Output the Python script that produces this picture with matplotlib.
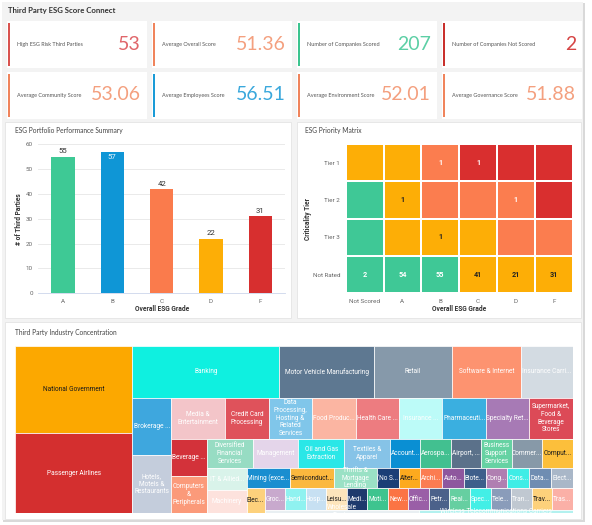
import matplotlib
matplotlib.use("Agg")
import matplotlib.pyplot as plt
from matplotlib.patches import Rectangle
from matplotlib.colors import ListedColormap
import numpy as np

plt.rcParams['font.family'] = ['Lato', 'DejaVu Sans']

# ---------------- data ----------------
dashboard_title = "Third Party ESG Score Connect"
kpi_labels = ["High ESG Risk Third Parties", "Average Overall Score",
              "Number of Companies Scored", "Number of Companies Not Scored",
              "Average Community Score", "Average Employees Score",
              "Average Environment Score", "Average Governance Score"]
kpi_values = ["53", "51.36", "207", "2", "53.06", "56.51", "52.01", "51.88"]
kpi_bar_colors = ["#d9534f", "#f0845c", "#3cc48f", "#c9302c",
                  "#f0845c", "#1a9bd7", "#f0845c", "#f0845c"]
kpi_value_colors = ["#e0666a", "#f4a07f", "#5ccfa5", "#d64545",
                    "#f4a07f", "#3aa8dc", "#f4a07f", "#f4a07f"]

bar_title = "ESG Portfolio Performance Summary"
grades = ["A", "B", "C", "D", "F"]
grade_counts = [55, 57, 42, 22, 31]
grade_colors = ["#3ec995", "#0f96d6", "#fa7b4c", "#fdae06", "#d72f2f"]

matrix_title = "ESG Priority Matrix"
matrix_cols = ["Not Scored", "A", "B", "C", "D", "F"]
matrix_rows = ["Tier 1", "Tier 2", "Tier 3", "Not Rated"]
matrix_risk = [[1, 1, 2, 3, 3, 3],
               [0, 1, 2, 2, 2, 3],
               [0, 1, 1, 1, 2, 2],
               [0, 0, 0, 1, 1, 1]]
matrix_counts = [[None, None, 1, 1, None, None],
                 [None, 1, None, None, 1, None],
                 [None, None, 1, None, None, None],
                 [2, 54, 55, 41, 21, 31]]
risk_colors = ["#3fc896", "#fdae06", "#fb7d4f", "#d92f2f"]

tree_title = "Third Party Industry Concentration"
industries = ["National Government", "Passenger Airlines", "Banking",
              "Motor Vehicle Manufacturing", "Retail", "Software & Internet",
              "Insurance Carriers", "Brokerage & Investment", "Hotels, Motels & Restaurants",
              "Media & Entertainment", "Credit Card Processing",
              "Data Processing, Hosting & Related Services", "Food Products",
              "Health Care Providers", "Insurance Agencies", "Pharmaceuticals",
              "Specialty Retail", "Supermarket, Food & Beverage Stores",
              "Beverage Manufacturing", "Computers & Peripherals",
              "Diversified Financial Services", "Management", "Oil and Gas Extraction",
              "Textiles & Apparel", "Accounting", "Aerospace & Defense",
              "Airport, Airline Services", "Business Support Services",
              "Commercial Services", "Computer Services", "IT & Allied Services",
              "Machinery", "Mining (except Oil and Gas)", "Semiconductors",
              "Thrifts & Mortgage Lending", "(No Sector)", "Alternative Energy",
              "Architecture", "Auto Parts", "Biotechnology", "Conglomerates",
              "Construction", "Data Services", "Electric Utilities", "Electronics",
              "Grocery Stores", "Hand Tools", "Hospitals", "Leisure", "Medical Devices",
              "Motion Pictures", "Newspapers", "Office Supplies", "Petroleum Refining",
              "Real Estate", "Specialty Chemicals", "Telecommunications", "Transportation",
              "Travel", "Trash Collection", "Wholesale Trade",
              "Wireless Telecommunications Carriers"]
industry_counts = [23, 21, 17, 11, 9, 8, 6, 5, 5, 5, 4, 4, 4, 4, 4, 4, 4, 4,
                   3, 3, 3, 3, 3, 3, 2, 2, 2, 2, 2, 2, 2, 2, 2, 2, 2,
                   1, 1, 1, 1, 1, 1, 1, 1, 1, 1, 1, 1, 1, 1, 1, 1, 1, 1, 1,
                   1, 1, 1, 1, 1, 1, 1, 1]
industry_labels = ["National Government", "Passenger Airlines", "Banking",
                   "Motor Vehicle Manufacturing", "Retail", "Software & Internet",
                   "Insurance Carri...", "Brokerage ...", "Hotels,\nMotels &\nRestaurants",
                   "Media &\nEntertainment", "Credit Card\nProcessing",
                   "Data\nProcessing,\nHosting &\nRelated\nServices", "Food Produc...",
                   "Health Care ...", "Insurance ...", "Pharmaceuti...", "Specialty Ret...",
                   "Supermarket,\nFood &\nBeverage\nStores", "Beverage ...",
                   "Computers\n&\nPeripherals", "Diversified\nFinancial\nServices",
                   "Management", "Oil and Gas\nExtraction", "Textiles &\nApparel",
                   "Account...", "Aerospa...", "Airport, ...", "Business\nSupport\nServices",
                   "Commer...", "Comput...", "IT & Allied...", "Machinery", "Mining (exce...",
                   "Semiconduct...", "Thrifts &\nMortgage\nLending", "(No S...", "Alter...",
                   "Archi...", "Auto...", "Biote...", "Cong...", "Cons...", "Data...",
                   "Elect...", "Elec...", "Groc...", "Hand...", "Hosp...", "Leisu...",
                   "Medi...", "Moti...", "New...", "Offic...", "Petr...", "Real...",
                   "Spec...", "Tele...", "Tran...", "Trav...", "Tras...",
                   "Wholesale\nTrade", "Wireless Telecommunications Carriers"]
industry_colors = ["#fca800", "#d42f2f", "#0ff0e0", "#5e7891", "#8699aa", "#fd9370",
                   "#d3dbe2", "#3ea7de", "#c4cddc", "#f3c5c9", "#df525b", "#80c6ea",
                   "#fbb5a2", "#ed7c80", "#bcfbf8", "#3aafe0", "#a77ab5", "#dc4a57",
                   "#d3323a", "#fb9a7a", "#97dcc3", "#e4d5ea", "#2ae7e7", "#86c3e7",
                   "#0a8fd3", "#42c090", "#5b718a", "#66d2a3", "#8799a8", "#fcbf3b",
                   "#d9f3ea", "#fde2dd", "#1a8ed0", "#fbb83e", "#9ae1c5",
                   "#1b3e76", "#fdaa1e", "#fb7c52", "#8e579e", "#3e5f8b", "#b07fb1",
                   "#3eede6", "#6f8db2", "#a9b7c8", "#fdd17c", "#c8a9cd", "#8ff2f0",
                   "#c7e0f2", "#fde5bc", "#1e3a6d", "#3ec48f", "#fb7444", "#9a5fa7",
                   "#4b618a", "#66cfa1", "#42efe6", "#8a9cba", "#c0c8d1", "#fdd17b",
                   "#fbb0a7", "#e9eff2", "#b3f1ef"]
dark_label_industries = {"National Government", "Computer Services", "Semiconductors",
                         "Alternative Energy", "Electronics", "Leisure", "Travel"}

# ---------------- helpers ----------------
FW, FH = 592, 525
fig = plt.figure(figsize=(FW / 100, FH / 100), dpi=100)
fig.patch.set_facecolor("white")


def axes_px(x0, y0, x1, y1):
    return fig.add_axes([x0 / FW, 1 - y1 / FH, (x1 - x0) / FW, (y1 - y0) / FH])


bg = fig.add_axes([0, 0, 1, 1])
bg.set_xlim(0, FW)
bg.set_ylim(FH, 0)
bg.axis("off")

# dashboard background + shadow
bg.add_patch(Rectangle((3, 3), 582, 519, facecolor="#d9d9d9", edgecolor="none"))
bg.add_patch(Rectangle((2, 2), 581, 518, facecolor="#f3f3f3", edgecolor="none"))
# panels
for (x0, y0, x1, y1) in [(5, 122, 291, 318), (297, 122, 581, 318), (5, 322, 581, 519)]:
    bg.add_patch(Rectangle((x0, y0), x1 - x0, y1 - y0, facecolor="white",
                           edgecolor="#e4e4e4", lw=0.6))

bg.text(8, 10, dashboard_title, fontsize=5.6, fontweight="bold", color="#333333",
        va="center", ha="left")

# KPI cards
for i, (lab, val) in enumerate(zip(kpi_labels, kpi_values)):
    r, c = divmod(i, 4)
    cx = 7 + c * 145
    cy = 21 + r * 51
    bg.add_patch(Rectangle((cx, cy), 140, 47, facecolor="white", edgecolor="none"))
    bg.add_patch(Rectangle((cx + 1, cy + 2), 1.6, 43, facecolor=kpi_bar_colors[i],
                           edgecolor="none"))
    bg.text(cx + 10, cy + 23.5, lab, fontsize=4.0, color="#555555", va="center", ha="left")
    bg.text(cx + 134, cy + 23, val, fontsize=14, fontweight="normal",
            color=kpi_value_colors[i], va="center", ha="right")

# panel titles
bg.text(15, 131, bar_title, fontsize=4.8, color="#444444", va="center")
bg.text(305, 131, matrix_title, fontsize=4.8, color="#444444", va="center")
bg.text(15, 333, tree_title, fontsize=4.8, color="#444444", va="center")

chart_font = ['Roboto', 'DejaVu Sans']

# ---------------- bar chart ----------------
ax = axes_px(38.3, 144.3, 285, 293.3)
xs = np.arange(len(grades))
bars = ax.bar(xs, grade_counts, width=0.47, color=grade_colors, zorder=3)
ax.set_xlim(-0.5, len(grades) - 0.5)
ax.set_ylim(0, 60)
ax.set_yticks(range(0, 61, 10))
ax.set_xticks(xs, grades)
ax.grid(axis="y", color="#e6e6e6", lw=0.6)
ax.set_axisbelow(True)
for s in ["top", "right", "left"]:
    ax.spines[s].set_visible(False)
ax.spines["bottom"].set_color("#ccd6eb")
ax.spines["bottom"].set_linewidth(0.6)
ax.tick_params(axis="y", length=0, labelsize=4.5, colors="#666666", pad=4)
ax.tick_params(axis="x", length=0, labelsize=4.5, colors="#666666", pad=4)
for t in ax.get_xticklabels() + ax.get_yticklabels():
    t.set_family(chart_font)
ax.set_facecolor("none")
ax.set_xlabel("Overall ESG Grade", fontsize=4.8, fontweight="bold", color="#333333",
              family=chart_font)
ax.xaxis.set_label_coords(0.5, -0.08)
ax.set_ylabel("# of Third Parties", fontsize=4.8, fontweight="bold", color="#333333",
              family=chart_font)
ax.yaxis.set_label_coords(-0.062, 0.5)
for rect, v in zip(bars, grade_counts):
    cxm = rect.get_x() + rect.get_width() / 2
    if v >= 56:
        ax.text(cxm, v - 0.8, str(v), ha="center", va="top", fontsize=5.6,
                color="#e8f4fb", family=chart_font, zorder=4)
    else:
        ax.text(cxm, v + 0.9, str(v), ha="center", va="bottom", fontsize=5.6,
                color="#333333", family=chart_font, zorder=4)

# ---------------- heatmap ----------------
hx = axes_px(345.7, 144, 572.7, 293.3)
risk = np.array(matrix_risk)
cmap = ListedColormap(risk_colors)
hx.pcolormesh(np.arange(len(matrix_cols) + 1), np.arange(len(matrix_rows) + 1), risk,
              cmap=cmap, vmin=-0.5, vmax=3.5, edgecolors="white", linewidth=1.3)
hx.set_xlim(0, len(matrix_cols))
hx.set_ylim(len(matrix_rows), 0)
hx.set_xticks(np.arange(len(matrix_cols)) + 0.5, matrix_cols)
hx.set_yticks(np.arange(len(matrix_rows)) + 0.5, matrix_rows)
for s in hx.spines.values():
    s.set_visible(False)
hx.tick_params(length=0, labelsize=4.5, colors="#666666", pad=4)
for t in hx.get_xticklabels() + hx.get_yticklabels():
    t.set_family(chart_font)
hx.set_xlabel("Overall ESG Grade", fontsize=4.8, fontweight="bold", color="#333333",
              family=chart_font)
hx.xaxis.set_label_coords(0.5, -0.08)
hx.set_ylabel("Criticality Tier", fontsize=4.8, fontweight="bold", color="#333333",
              family=chart_font)
hx.yaxis.set_label_coords(-0.15, 0.5)
for r, row in enumerate(matrix_counts):
    for c, v in enumerate(row):
        if v is None:
            continue
        col = "#222222" if matrix_risk[r][c] == 1 else "white"
        hx.text(c + 0.5, r + 0.5, str(v), ha="center", va="center", fontsize=5.2,
                fontweight="bold", color=col, family=chart_font)


# ---------------- treemap (Highcharts-style squarified) ----------------
def squarified(values, W, H):
    nan = float("nan")
    total = float(sum(values))
    out = []
    plot = {"x": 0.0, "y": 0.0}
    g = {"height": H, "width": W, "direction": 0, "total": 0.0, "nW": 0.0, "lW": 0.0,
         "nH": 0.0, "lH": 0.0, "el": [], "lR": nan, "nR": nan}

    def div(a, b):
        if b == 0 or a != a:
            return nan
        return a / b

    def ar(w, h):
        if w != w or h != h or w == 0 or h == 0:
            return nan
        return max(w / h, h / w)

    def add(el):
        lt = g["el"][-1] if g["el"] else nan
        g["total"] += el
        if g["direction"] == 0:
            g["lW"] = g["nW"]
            lH = div(lt, g["lW"])
            g["lR"] = ar(g["lW"], lH)
            g["nW"] = g["total"] / g["height"]
            nH = div(lt, g["nW"])
            g["nR"] = ar(g["nW"], nH)
        else:
            g["lH"] = g["nH"]
            lW = div(lt, g["lH"])
            g["lR"] = ar(lW, g["lH"])
            g["nH"] = g["total"] / g["width"]
            nW = div(lt, g["nH"])
            g["nR"] = ar(nW, g["nH"])
        g["el"].append(el)

    def calc(last):
        if last:
            gW, gH = g["nW"], g["nH"]
            els = list(g["el"])
            keep = None
        else:
            gW, gH = g["lW"], g["lH"]
            els = list(g["el"][:-1])
            keep = g["el"][-1]
        for p in els:
            if g["direction"] == 0:
                pw, ph = gW, p / gW
                out.append((plot["x"], plot["y"], pw, ph))
                plot["y"] += ph
            else:
                ph, pw = gH, p / gH
                out.append((plot["x"], plot["y"], pw, ph))
                plot["x"] += pw
        g["nW"] = 0.0
        g["lW"] = 0.0
        g["el"] = []
        g["total"] = 0.0
        if g["direction"] == 0:
            g["width"] -= gW
        else:
            g["height"] -= gH
        plot["y"] = H - g["height"]
        plot["x"] = W - g["width"]
        g["direction"] = 1 - g["direction"]
        if not last:
            add(keep)

    n = len(values)
    for i, v in enumerate(values):
        add(W * H * v / total)
        if g["nR"] > g["lR"]:
            calc(False)
        if i == n - 1:
            calc(True)
    return out


TX0, TY0, TX1, TY1 = 15, 346, 572.7, 513
TW, TH = TX1 - TX0, TY1 - TY0
tx = axes_px(TX0, TY0, TX1, TY1)
tx.set_xlim(0, TW)
tx.set_ylim(TH, 0)
tx.axis("off")
cells = squarified(industry_counts, TW, TH)
for (x, y, w, h), name, lab, colr in zip(cells, industries, industry_labels, industry_colors):
    tx.add_patch(Rectangle((x, y), w, h, facecolor=colr, edgecolor="white", lw=0.5))
    tcol = "#1a1a1a" if name in dark_label_industries else "white"
    tx.text(x + w / 2, y + h / 2, lab, ha="center", va="center", fontsize=4.7,
            color=tcol, family=chart_font, linespacing=1.15, clip_on=True)

fig.savefig("out.png", dpi=100, facecolor="white")
